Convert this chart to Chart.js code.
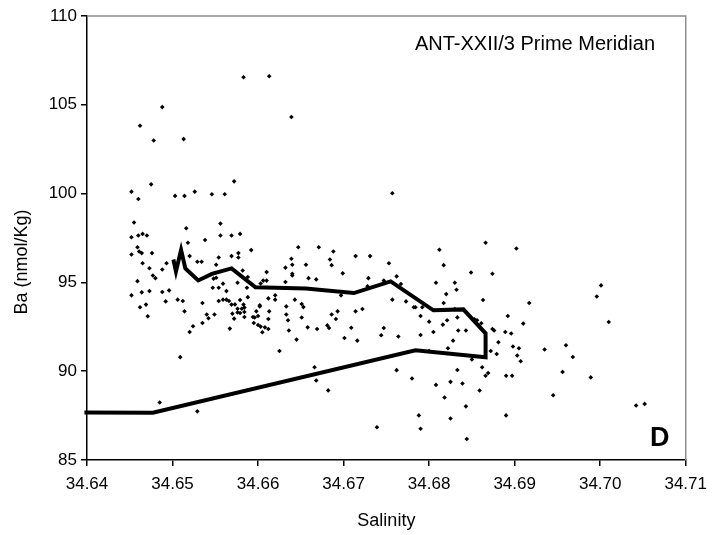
<!DOCTYPE html>
<html>
<head>
<meta charset="utf-8">
<script src="https://cdn.jsdelivr.net/npm/chart.js@4/dist/chart.umd.min.js"></script>
<style>
html,body{margin:0;padding:0;background:#fff;}
#wrap{width:715px;height:535px;position:relative;}
</style>
</head>
<body>
<div id="wrap"><canvas id="c" width="715" height="535"></canvas></div>
<script>
// Scatter samples: salinity and Ba (nmol/Kg)
const sampleSalinity = [
34.6583,34.6613,34.6488,34.6462,34.6478,34.6513,34.6639,34.6757,34.6475,34.6452,
34.6460,34.6503,34.6514,34.6526,34.6546,34.6561,34.6572,34.6455,34.6556,34.6516,
34.6452,34.6460,34.6465,34.6470,34.6538,34.6556,34.6569,34.6579,34.6518,34.6459,
34.6461,34.6464,34.6452,34.6476,34.6520,34.6554,34.6569,34.6577,34.6577,34.6592,
34.6647,34.6671,34.6688,34.6714,34.6731,34.6639,34.6684,34.6812,34.6866,34.6902,
34.6917,34.6910,34.7001,34.6996,34.7010,34.6960,34.6968,34.6956,34.6989,34.6945,
34.7042,34.7052,34.6817,34.6849,34.6874,34.6808,34.6830,34.6767,34.6832,34.6820,
34.6863,34.6773,34.6817,34.6782,34.6784,34.6792,34.6830,34.6790,34.6833,34.6892,
34.6800,34.6821,34.6853,34.6856,34.6861,34.6816,34.6834,34.6843,34.6874,34.6876,
34.6889,34.6896,34.6805,34.6764,34.6790,34.6881,34.6828,34.6898,34.6905,34.6935,
34.6822,34.6800,34.6872,34.6879,34.6903,34.6907,34.6850,34.6862,34.6833,34.6869,
34.6866,34.6890,34.6897,34.6780,34.6825,34.6839,34.6808,34.6859,34.6818,34.6843,
34.6788,34.6890,34.6825,34.6790,34.6844,34.6753,34.6762,34.6757,34.6686,34.6656,
34.6640,34.6632,34.6610,34.6640,34.6640,34.6699,34.6659,34.6668,34.6729,34.6606,
34.6610,34.6632,34.6747,34.6603,34.6728,34.6697,34.6612,34.6620,34.6620,34.6643,
34.6602,34.6633,34.6651,34.6653,34.6598,34.6613,34.6633,34.6693,34.6686,34.6714,
34.6722,34.6600,34.6596,34.6612,34.6635,34.6651,34.6691,34.6600,34.6608,34.6612,
34.6658,34.6669,34.6681,34.6683,34.6709,34.6747,34.6636,34.6701,34.6716,34.6744,
34.6645,34.6625,34.6666,34.6668,34.6682,34.6762,34.6739,34.6584,34.6584,34.6584,
34.6579,34.6594,34.6595,34.6603,34.6605,34.6602,34.6588,34.6579,34.6583,34.6587,
34.6588,34.6465,34.6493,34.6529,34.6534,34.6551,34.6473,34.6488,34.6477,34.6480,
34.6459,34.6582,34.6548,34.6551,34.6496,34.6488,34.6473,34.6464,34.6452,34.6492,
34.6506,34.6512,34.6535,34.6547,34.6554,34.6563,34.6559,34.6462,34.6469,34.6514,
34.6471,34.6540,34.6542,34.6549,34.6554,34.6559,34.6563,34.6566,34.6569,34.6573,
34.6576,34.6581,34.6570,34.6576,34.6572,34.6524,34.6535,34.6567,34.6520,34.6509,
34.6485,34.6529,34.6576
];
const sampleBa = [
106.55,106.61,104.87,103.82,102.99,103.07,104.31,100.02,100.52,100.11,
99.70,99.87,99.87,100.11,99.96,99.96,100.69,98.37,98.31,98.05,
97.54,97.64,97.73,97.64,97.39,97.64,97.64,97.73,97.23,96.98,
96.74,96.65,96.57,96.65,96.48,96.40,96.48,96.65,96.40,96.82,
96.98,96.98,96.74,96.48,96.48,96.33,96.29,96.84,97.23,96.91,
93.84,92.68,94.83,94.21,92.77,91.46,90.80,89.96,89.65,88.65,
88.07,88.16,95.97,95.56,95.49,94.98,94.98,94.91,94.59,94.34,
94.01,93.93,93.84,93.60,93.60,93.60,93.50,93.11,93.03,93.11,
92.79,92.87,92.92,92.87,92.70,92.62,92.29,92.29,92.38,92.29,
92.21,92.12,92.21,91.95,92.04,91.63,91.72,91.39,91.29,91.22,
91.29,91.14,91.14,90.97,90.88,90.56,90.66,90.22,90.07,89.90,
89.74,89.74,89.74,89.59,89.40,89.31,89.23,88.91,88.52,88.02,
87.51,87.51,87.34,86.76,86.18,96.08,95.34,94.03,95.97,95.99,
95.99,95.83,95.58,95.49,95.39,95.51,95.24,95.17,95.24,95.10,
95.10,95.02,95.10,94.94,94.78,94.27,94.10,94.27,94.03,94.03,
93.65,93.65,93.78,93.61,93.37,93.37,93.19,93.37,93.19,93.37,
93.50,93.11,93.02,92.94,92.87,93.02,92.94,92.60,92.47,92.38,
92.47,92.38,92.58,92.43,92.45,92.43,92.29,91.87,91.72,92.02,
91.78,91.14,90.22,89.48,88.92,90.06,86.84,93.58,93.33,93.05,
93.28,93.05,92.71,92.51,92.19,93.71,94.17,94.01,93.75,94.70,
95.30,96.08,96.08,96.16,96.16,95.99,95.80,95.73,95.39,95.24,
95.07,95.67,95.21,95.26,94.55,94.46,94.51,94.44,94.27,93.93,
94.03,93.95,93.84,94.70,94.70,94.51,94.93,93.60,93.75,93.37,
93.09,93.19,92.98,93.19,93.95,94.03,94.03,93.95,93.75,93.76,
93.52,93.52,93.24,93.31,92.96,92.53,92.71,92.40,92.21,90.79,
88.24,87.74,94.98
];
// Thick profile line
const lineSalinity = [34.6501,34.6504,34.6510,34.6515,34.6530,34.6546,34.6569,34.6597,34.6656,34.6671,34.6712,34.6755,34.6805,34.6840,34.6866,34.6866,34.6784,34.6477,34.6397];
const lineBa       = [96.29,95.62,96.83,95.79,95.11,95.48,95.79,94.72,94.65,94.59,94.40,95.06,93.43,93.48,92.13,90.79,91.18,87.66,87.67];
// Axis ticks
const xTicks = [34.64,34.65,34.66,34.67,34.68,34.69,34.70,34.71];
const yTicks = [85,90,95,100,105,110];

const FONT = "'Liberation Sans', Arial, sans-serif";

const pts = sampleSalinity.map((s,i)=>({x:s,y:sampleBa[i]}));
const linePts = lineSalinity.map((s,i)=>({x:s,y:lineBa[i]}));

const framePlugin = {
  id:'frame',
  afterDatasetsDraw(chart){
    const {ctx, chartArea:a} = chart;
    ctx.save();
    ctx.strokeStyle = '#8c8c8c';
    ctx.lineWidth = 1.5;
    ctx.beginPath();
    ctx.moveTo(a.left, a.top);
    ctx.lineTo(a.right, a.top);
    ctx.lineTo(a.right, a.bottom);
    ctx.stroke();
    ctx.fillStyle = '#000';
    ctx.font = "20px " + FONT;
    ctx.textAlign = 'right';
    ctx.textBaseline = 'alphabetic';
    ctx.fillText('ANT-XXII/3 Prime Meridian', 655, 50);
    ctx.font = "bold 27px " + FONT;
    ctx.textAlign = 'left';
    ctx.fillText('D', 650, 446);
    // y-axis title
    ctx.font = "18px " + FONT;
    ctx.textAlign = 'center';
    ctx.textBaseline = 'middle';
    ctx.translate(22, 262);
    ctx.rotate(-Math.PI/2);
    ctx.fillText('Ba (nmol/Kg)', 0, 0);
    ctx.restore();
  }
};

new Chart(document.getElementById('c'), {
  type:'scatter',
  data:{
    datasets:[
      {label:'line', data:linePts, showLine:true, borderColor:'#000', borderWidth:4, pointRadius:0, fill:false, tension:0, order:0, clip:{left:6,right:0,top:0,bottom:0}},
      {label:'samples', data:pts, pointStyle:'rectRot', pointRadius:2.3, backgroundColor:'#000', borderColor:'#000', borderWidth:0, order:1}
    ]
  },
  plugins:[framePlugin],
  options:{
    responsive:false,
    animation:false,
    events:[],
    layout:{padding:{left:0,right:27,top:16,bottom:0}},
    plugins:{legend:{display:false}, tooltip:{enabled:false}},
    scales:{
      x:{
        type:'linear', min:34.64, max:34.71,
        afterBuildTicks(scale){ scale.ticks = xTicks.map(v=>({value:v})); },
        afterFit(scale){ scale.height = 75; },
        border:{display:true,color:'#000',width:1.5},
        grid:{display:true,drawOnChartArea:false,drawTicks:true,tickLength:6,color:'#000',lineWidth:1.5},
        ticks:{color:'#000',font:{family:FONT,size:17},padding:8,maxRotation:0,autoSkip:false,
               callback:(v)=>Number(v).toFixed(2)},
        title:{display:true,text:'Salinity',color:'#000',font:{family:FONT,size:18},padding:{top:0,bottom:3}}
      },
      y:{
        type:'linear', min:85, max:110,
        afterBuildTicks(scale){ scale.ticks = yTicks.map(v=>({value:v})); },
        afterFit(scale){ scale.width = 87; },
        border:{display:true,color:'#000',width:1.5},
        grid:{display:true,drawOnChartArea:false,drawTicks:true,tickLength:6,color:'#000',lineWidth:1.5},
        ticks:{color:'#000',font:{family:FONT,size:17},padding:4,autoSkip:false,
               callback:(v)=>String(v)},
        title:{display:false}
      }
    }
  }
});
</script>
</body>
</html>
